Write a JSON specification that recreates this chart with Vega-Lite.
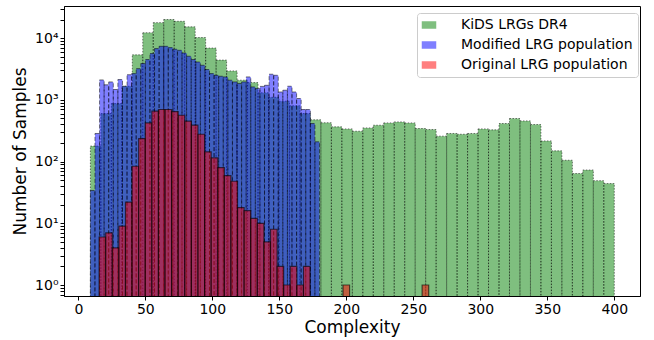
{
  "$schema": "https://vega.github.io/schema/vega-lite/v6.json",
  "width": 576,
  "height": 290,
  "autosize": {"type": "none"},
  "padding": {"left": 64, "top": 6, "right": 14, "bottom": 44},
  "background": "white",
  "config": {
    "font": "DejaVu Sans",
    "view": {"stroke": "black", "strokeWidth": 1},
    "axis": {
      "grid": false,
      "domainColor": "black",
      "tickColor": "black",
      "labelColor": "black",
      "titleColor": "black",
      "labelFontSize": 14,
      "titleFontSize": 17,
      "titleFontWeight": "normal",
      "tickSize": 4,
      "labelPadding": 2
    },
    "legend": {
      "orient": "none",
      "legendX": 353,
      "legendY": 7,
      "title": null,
      "labelFontSize": 14,
      "labelColor": "black",
      "labelLimit": 400,
      "symbolType": "M-1.45,-0.75L1.45,-0.75L1.45,0.75L-1.45,0.75Z",
      "symbolSize": 100,
      "symbolStrokeColor": "rgba(0,0,0,0.5)",
      "symbolStrokeWidth": 1,
      "labelOffset": 25,
      "rowPadding": 6,
      "padding": 5,
      "fillColor": "rgba(255,255,255,0.8)",
      "strokeColor": "#cccccc",
      "cornerRadius": 3
    }
  },
  "datasets": {
    "kids": [
      {"lo": 9, "hi": 16.82, "n": 178}, {"lo": 16.82, "hi": 24.64, "n": 600}, {"lo": 24.64, "hi": 32.46, "n": 870}, {"lo": 32.46, "hi": 40.28, "n": 1660}, {"lo": 40.28, "hi": 48.1, "n": 5350},
      {"lo": 48.1, "hi": 55.92, "n": 12200}, {"lo": 55.92, "hi": 63.74, "n": 17800}, {"lo": 63.74, "hi": 71.56, "n": 20000}, {"lo": 71.56, "hi": 79.38, "n": 18700}, {"lo": 79.38, "hi": 87.2, "n": 15200},
      {"lo": 87.2, "hi": 95.02, "n": 10200}, {"lo": 95.02, "hi": 102.84, "n": 6900}, {"lo": 102.84, "hi": 110.66, "n": 4400}, {"lo": 110.66, "hi": 118.48, "n": 2940}, {"lo": 118.48, "hi": 126.3, "n": 2080},
      {"lo": 126.3, "hi": 134.12, "n": 1900}, {"lo": 134.12, "hi": 141.94, "n": 1300}, {"lo": 141.94, "hi": 149.76, "n": 1100}, {"lo": 149.76, "hi": 157.58, "n": 950}, {"lo": 157.58, "hi": 165.4, "n": 800},
      {"lo": 165.4, "hi": 173.22, "n": 600}, {"lo": 173.22, "hi": 181.04, "n": 475}, {"lo": 181.04, "hi": 188.86, "n": 425}, {"lo": 188.86, "hi": 196.68, "n": 365}, {"lo": 196.68, "hi": 204.5, "n": 338},
      {"lo": 204.5, "hi": 212.32, "n": 310}, {"lo": 212.32, "hi": 220.14, "n": 351}, {"lo": 220.14, "hi": 227.96, "n": 388}, {"lo": 227.96, "hi": 235.78, "n": 423}, {"lo": 235.78, "hi": 243.6, "n": 439},
      {"lo": 243.6, "hi": 251.42, "n": 423}, {"lo": 251.42, "hi": 259.24, "n": 343}, {"lo": 259.24, "hi": 267.06, "n": 330}, {"lo": 267.06, "hi": 274.88, "n": 258}, {"lo": 274.88, "hi": 282.7, "n": 285},
      {"lo": 282.7, "hi": 290.52, "n": 277}, {"lo": 290.52, "hi": 298.34, "n": 285}, {"lo": 298.34, "hi": 306.16, "n": 338}, {"lo": 306.16, "hi": 313.98, "n": 326}, {"lo": 313.98, "hi": 321.8, "n": 413},
      {"lo": 321.8, "hi": 329.62, "n": 498}, {"lo": 329.62, "hi": 337.44, "n": 456}, {"lo": 337.44, "hi": 345.26, "n": 398}, {"lo": 345.26, "hi": 353.08, "n": 216}, {"lo": 353.08, "hi": 360.9, "n": 149},
      {"lo": 360.9, "hi": 368.72, "n": 105}, {"lo": 368.72, "hi": 376.54, "n": 64}, {"lo": 376.54, "hi": 384.36, "n": 73}, {"lo": 384.36, "hi": 392.18, "n": 49}, {"lo": 392.18, "hi": 400, "n": 44}
    ],
    "modified": [
      {"lo": 9, "hi": 12.42, "n": 34}, {"lo": 12.42, "hi": 15.84, "n": 285}, {"lo": 15.84, "hi": 19.26, "n": 2100}, {"lo": 19.26, "hi": 22.68, "n": 1750}, {"lo": 22.68, "hi": 26.1, "n": 1950},
      {"lo": 26.1, "hi": 29.52, "n": 1470}, {"lo": 29.52, "hi": 32.94, "n": 2130}, {"lo": 32.94, "hi": 36.36, "n": 1660}, {"lo": 36.36, "hi": 39.78, "n": 2550}, {"lo": 39.78, "hi": 43.2, "n": 2660},
      {"lo": 43.2, "hi": 46.62, "n": 3200}, {"lo": 46.62, "hi": 50.04, "n": 3870}, {"lo": 50.04, "hi": 53.46, "n": 4490}, {"lo": 53.46, "hi": 56.88, "n": 5610}, {"lo": 56.88, "hi": 60.3, "n": 6760},
      {"lo": 60.3, "hi": 63.72, "n": 7360}, {"lo": 63.72, "hi": 67.14, "n": 7360}, {"lo": 67.14, "hi": 70.56, "n": 7010}, {"lo": 70.56, "hi": 73.98, "n": 6600}, {"lo": 73.98, "hi": 77.4, "n": 6340},
      {"lo": 77.4, "hi": 80.82, "n": 5740}, {"lo": 80.82, "hi": 84.24, "n": 5080}, {"lo": 84.24, "hi": 87.66, "n": 4490}, {"lo": 87.66, "hi": 91.08, "n": 4100}, {"lo": 91.08, "hi": 94.5, "n": 3630},
      {"lo": 94.5, "hi": 97.92, "n": 3100}, {"lo": 97.92, "hi": 101.34, "n": 2660}, {"lo": 101.34, "hi": 104.76, "n": 2500}, {"lo": 104.76, "hi": 108.18, "n": 2410}, {"lo": 108.18, "hi": 111.6, "n": 2350},
      {"lo": 111.6, "hi": 115.02, "n": 2080}, {"lo": 115.02, "hi": 118.44, "n": 1950}, {"lo": 118.44, "hi": 121.86, "n": 1840}, {"lo": 121.86, "hi": 125.28, "n": 1950}, {"lo": 125.28, "hi": 128.7, "n": 2350},
      {"lo": 128.7, "hi": 132.12, "n": 1620}, {"lo": 132.12, "hi": 135.54, "n": 1520}, {"lo": 135.54, "hi": 138.96, "n": 1650}, {"lo": 138.96, "hi": 142.38, "n": 1720}, {"lo": 142.38, "hi": 145.8, "n": 2600},
      {"lo": 145.8, "hi": 149.22, "n": 2500}, {"lo": 149.22, "hi": 152.64, "n": 1340}, {"lo": 152.64, "hi": 156.06, "n": 1430}, {"lo": 156.06, "hi": 159.48, "n": 1660}, {"lo": 159.48, "hi": 162.9, "n": 1340},
      {"lo": 162.9, "hi": 166.32, "n": 1050}, {"lo": 166.32, "hi": 169.74, "n": 697}, {"lo": 169.74, "hi": 173.16, "n": 697}, {"lo": 173.16, "hi": 176.58, "n": 413}, {"lo": 176.58, "hi": 180, "n": 209}
    ],
    "original": [
      {"lo": 15.5, "hi": 20.42, "n": 6}, {"lo": 20.42, "hi": 25.34, "n": 7}, {"lo": 25.34, "hi": 30.26, "n": 4}, {"lo": 30.26, "hi": 35.18, "n": 9}, {"lo": 35.18, "hi": 40.1, "n": 22},
      {"lo": 40.1, "hi": 45.02, "n": 84}, {"lo": 45.02, "hi": 49.94, "n": 236}, {"lo": 49.94, "hi": 54.86, "n": 423}, {"lo": 54.86, "hi": 59.78, "n": 655}, {"lo": 59.78, "hi": 64.7, "n": 697},
      {"lo": 64.7, "hi": 69.62, "n": 697}, {"lo": 69.62, "hi": 74.54, "n": 645}, {"lo": 74.54, "hi": 79.46, "n": 563}, {"lo": 79.46, "hi": 84.38, "n": 451}, {"lo": 84.38, "hi": 89.3, "n": 388},
      {"lo": 89.3, "hi": 94.22, "n": 277}, {"lo": 94.22, "hi": 99.14, "n": 144}, {"lo": 99.14, "hi": 104.06, "n": 115}, {"lo": 104.06, "hi": 108.98, "n": 80}, {"lo": 108.98, "hi": 113.9, "n": 59},
      {"lo": 113.9, "hi": 118.82, "n": 48}, {"lo": 118.82, "hi": 123.74, "n": 18}, {"lo": 123.74, "hi": 128.66, "n": 16}, {"lo": 128.66, "hi": 133.58, "n": 12}, {"lo": 133.58, "hi": 138.5, "n": 10},
      {"lo": 138.5, "hi": 143.42, "n": 5}, {"lo": 143.42, "hi": 148.34, "n": 8}, {"lo": 148.34, "hi": 153.26, "n": 2}, {"lo": 153.26, "hi": 158.18, "n": 1}, {"lo": 158.18, "hi": 163.1, "n": 2},
      {"lo": 163.1, "hi": 168.02, "n": 1}, {"lo": 168.02, "hi": 172.94, "n": 2}, {"lo": 197.54, "hi": 202.46, "n": 1}, {"lo": 256.58, "hi": 261.5, "n": 1}
    ]
  },
  "encoding": {
    "x": {
      "field": "lo", "type": "quantitative",
      "scale": {"domain": [-10.7, 419.2], "nice": false, "zero": false},
      "axis": {"title": "Complexity", "values": [0, 50, 100, 150, 200, 250, 300, 350, 400], "titlePadding": 3}
    },
    "x2": {"field": "hi"},
    "y": {
      "field": "n", "type": "quantitative",
      "scale": {"type": "log", "domain": [0.664, 33100], "nice": false},
      "axis": {
        "title": "Number of Samples",
        "titlePadding": 5,
        "values": [0.7, 0.8, 0.9, 1, 2, 3, 4, 5, 6, 7, 8, 9, 10, 20, 30, 40, 50, 60, 70, 80, 90, 100, 200, 300, 400, 500, 600, 700, 800, 900, 1000, 2000, 3000, 4000, 5000, 6000, 7000, 8000, 9000, 10000, 20000, 30000],
        "labelExpr": "abs(log(datum.value)/LN10 - round(log(datum.value)/LN10)) < 0.001 ? '10' + ['⁰','¹','²','³','⁴'][round(log(datum.value)/LN10)] : ''",
        "encode": {
          "ticks": {"update": {"x2": {"signal": "abs(log(datum.value)/LN10 - round(log(datum.value)/LN10)) < 0.001 ? -4 : -2"}}}
        }
      }
    },
    "y2": {"datum": 0.5}
  },
  "layer": [
    {
      "data": {"name": "kids"},
      "mark": {"type": "bar", "stroke": "black", "strokeOpacity": 0.5, "strokeWidth": 1, "clip": true},
      "encoding": {
        "color": {"datum": "KiDS LRGs DR4", "type": "nominal",
          "scale": {"domain": ["KiDS LRGs DR4", "Modified LRG population", "Original LRG population"], "range": ["rgba(0,128,0,0.5)", "rgba(0,0,255,0.5)", "rgba(255,0,0,0.5)"]}},
        "strokeDash": {"datum": "KiDS LRGs DR4", "type": "nominal",
          "scale": {"domain": ["KiDS LRGs DR4", "Modified LRG population", "Original LRG population"], "range": [[1.5, 1.5], [4, 2], [1, 0]]}}
      }
    },
    {
      "data": {"name": "modified"},
      "mark": {"type": "bar", "stroke": "black", "strokeOpacity": 0.5, "strokeWidth": 1, "clip": true},
      "encoding": {
        "color": {"datum": "Modified LRG population", "type": "nominal"},
        "strokeDash": {"datum": "Modified LRG population", "type": "nominal"}
      }
    },
    {
      "data": {"name": "original"},
      "mark": {"type": "bar", "stroke": "black", "strokeOpacity": 0.6, "strokeWidth": 1.2, "clip": true},
      "encoding": {
        "color": {"datum": "Original LRG population", "type": "nominal"},
        "strokeDash": {"datum": "Original LRG population", "type": "nominal"}
      }
    }
  ]
}
